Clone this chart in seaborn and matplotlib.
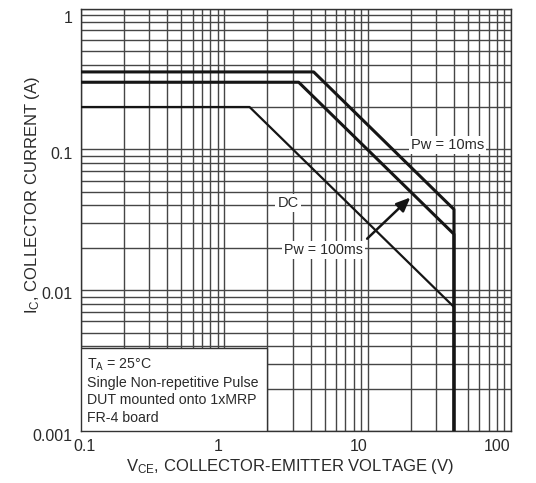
import numpy as np
import pandas as pd
import matplotlib
matplotlib.use("Agg")
import matplotlib.pyplot as plt
import matplotlib.transforms as mtransforms
import seaborn as sns
from matplotlib.patches import Rectangle

# ---- data ----
vce_10ms = [0.1, 4.2, 40, 40]
ic_10ms = [0.355, 0.355, 0.0375, 0.001]
vce_100ms = [0.1, 3.3, 40, 40]
ic_100ms = [0.30, 0.30, 0.025, 0.001]
vce_dc = [0.1, 1.5, 40, 40]
ic_dc = [0.20, 0.20, 0.0076, 0.001]

x_ticks = [0.1, 1, 10, 100]
x_ticklabels = ["0.1", "1", "10", "100"]
y_ticks = [0.001, 0.01, 0.1, 1]
y_ticklabels = ["0.001", "0.01", "0.1", "1"]

sns.set_theme(style="white")
plt.rcParams["font.family"] = ["Liberation Sans", "DejaVu Sans"]
plt.rcParams["mathtext.default"] = "regular"

df = pd.concat([
    pd.DataFrame({"vce": vce_10ms, "ic": ic_10ms, "curve": "Pw = 10ms", "order": range(4)}),
    pd.DataFrame({"vce": vce_100ms, "ic": ic_100ms, "curve": "Pw = 100ms", "order": range(4)}),
    pd.DataFrame({"vce": vce_dc, "ic": ic_dc, "curve": "DC", "order": range(4)}),
], ignore_index=True)

fig = plt.figure(figsize=(5.36, 4.83), dpi=100)
ax = fig.add_axes([81/536, 1-431/483, 430/536, (431-8.6)/483])

ax.set_xscale("log")
ax.set_yscale("log")
ax.set_xlim(0.1, 100)
ax.set_ylim(0.001, 1)

grid_c = "#454545"
ax.grid(True, which="both", color=grid_c, linewidth=1.0, zorder=0)
ax.set_axisbelow(True)

widths = {"Pw = 10ms": 2.2, "Pw = 100ms": 2.2, "DC": 1.6}
for name, sub in df.groupby("curve", sort=False):
    sns.lineplot(data=sub, x="vce", y="ic", sort=False, estimator=None,
                 color="#151515", linewidth=widths[name], ax=ax, zorder=3,
                 legend=False)

ax.set_xticks(x_ticks)
ax.set_xticklabels(x_ticklabels)
ax.set_yticks(y_ticks)
ax.set_yticklabels(y_ticklabels)
ax.tick_params(which="both", length=0, labelsize=11.5, colors="#2a2a2a", pad=6)
for lab, dx in zip(ax.get_xticklabels(), [4, -6, -9, -14]):
    lab.set_transform(lab.get_transform() +
                      mtransforms.ScaledTranslation(dx/100, 0, fig.dpi_scale_trans))
for lab, dy in zip(ax.get_yticklabels(), [-4, -3, -4, -8]):
    lab.set_transform(lab.get_transform() +
                      mtransforms.ScaledTranslation(0, dy/100, fig.dpi_scale_trans))

for s in ax.spines.values():
    s.set_color("#333333")
    s.set_linewidth(1.0)

ax.set_xlabel("V$_{CE}$, COLLECTOR-EMITTER VOLTAGE (V)", fontsize=12, color="#2a2a2a")
ax.set_ylabel("I$_C$, COLLECTOR CURRENT (A)", fontsize=12, color="#2a2a2a")
ax.xaxis.label.set_va("center")
ax.xaxis.set_label_coords(0.486, -0.083)
ax.yaxis.set_label_coords(-0.091, 0.56)

box = dict(facecolor="white", edgecolor="none", pad=1.5)
ax.text(20, 0.107, "Pw = 10ms", fontsize=10.5, color="#2a2a2a", va="center", ha="left",
        bbox=box, zorder=4)
ax.text(2.35, 0.0415, "DC", fontsize=10.5, color="#2a2a2a", va="center", ha="left",
        bbox=box, zorder=4)
ax.text(2.6, 0.0192, "Pw = 100ms", fontsize=10.3, color="#2a2a2a", va="center", ha="left",
        bbox=box, zorder=4)
ax.annotate("", xy=(20.5, 0.047), xytext=(9.6, 0.0225),
            arrowprops=dict(arrowstyle="-|>,head_length=0.7,head_width=0.3",
                            color="#151515", lw=1.8), zorder=5)

ax.add_patch(Rectangle((0.1, 0.001), 2 - 0.1, 0.0039 - 0.001, facecolor="white",
                       edgecolor="#333333", linewidth=1.0, zorder=4))
info = ["T$_A$ = 25°C", "Single Non-repetitive Pulse", "DUT mounted onto 1xMRP", "FR-4 board"]
for i, line in enumerate(info):
    ax.text(0.013, 0.156 - i * 0.0415, line, transform=ax.transAxes, fontsize=10.2,
            color="#2a2a2a", va="center", ha="left", zorder=5)

fig.savefig("out.png", dpi=100)
